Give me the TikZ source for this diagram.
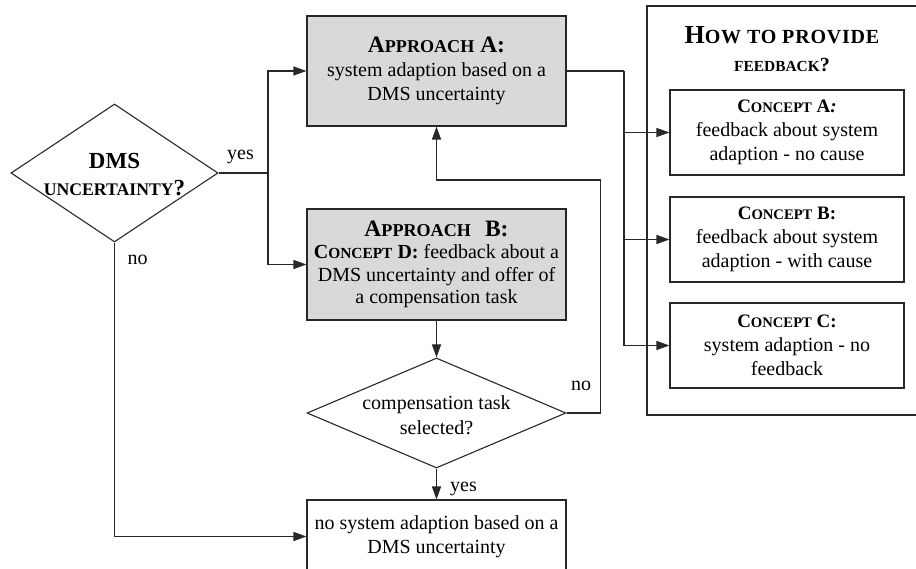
\documentclass[tikz,border=0pt]{standalone}
\usepackage{fontspec}
\setmainfont{Liberation Serif}
\usetikzlibrary{shapes.geometric,arrows.meta}

% scaled capitals standing in for small caps
\makeatletter
\newcommand{\minicaps}[1]{{\fontsize{\the\dimexpr 0.77\dimexpr\f@size pt\relax\relax}{\f@baselineskip}\selectfont #1}}
\makeatother
\newcommand{\headfont}{\bfseries\fontsize{23.5}{24}\selectfont}
\newcommand{\conceptfont}{\bfseries\fontsize{19}{24}\selectfont}

\definecolor{edge}{RGB}{40,40,40}
\definecolor{boxfill}{RGB}{217,217,217}

\tikzset{
  body/.style={font=\fontsize{20}{24}\selectfont, text=black},
  plainbox/.style={body, draw=edge, line width=1.1pt, align=center, inner sep=2pt},
  greybox/.style={plainbox, fill=boxfill, minimum width=259pt},
  conceptbox/.style={plainbox, minimum width=234pt, minimum height=85pt},
  decision/.style={diamond, draw=edge, line width=1.1pt, inner sep=0pt},
  flow/.style={draw=edge, line width=1.1pt},
  arr/.style={flow, -{Triangle[length=13pt,width=9pt]}},
  tag/.style={body, anchor=base, inner sep=0pt}
}

\begin{document}
\begin{tikzpicture}[x=1pt,y=-1pt]
\useasboundingbox (0,0) rectangle (916,569);

% right-hand panel frame, open towards the right margin
\coordinate (panelNE) at (940,6);
\coordinate (panelNW) at (647,6);
\coordinate (panelSW) at (647,415);
\coordinate (panelSE) at (940,415);
\draw[flow] (panelNE) -- (panelNW) -- (panelSW) -- (panelSE);
\node[body, align=center, inner sep=0pt] (panelhead) at (782,49)
  {{\bfseries\fontsize{26}{24}\selectfont\addfontfeature{LetterSpace=4}H\minicaps{OW TO PROVIDE}}\\[4pt] {\bfseries\minicaps{FEEDBACK}?}};

\node[conceptbox] (cA) at (787,132.5)
  {{\conceptfont C\minicaps{ONCEPT} A\textit{:}}\\ feedback about system\\ adaption - no cause};
\node[conceptbox] (cB) at (787,239.5)
  {{\conceptfont C\minicaps{ONCEPT} B:}\\ feedback about system\\ adaption - with cause};
\node[conceptbox] (cC) at (787,345.5)
  {{\conceptfont C\minicaps{ONCEPT} C:}\\ system adaption - no\\ feedback};

% main flow
\node[decision, minimum width=207pt, minimum height=138pt] (dms) at (114.5,173) {};
\node[body, align=center, inner sep=0pt, font=\fontsize{23}{27}\selectfont] (dmstext) at (114.5,175)
  {{\bfseries DMS}\\ {\bfseries\minicaps{UNCERTAINTY}?}};

\node[greybox, minimum height=110pt] (appA) at (436.5,71)
  {{\headfont A\minicaps{PPROACH} A:}\\ system adaption based on a\\ DMS uncertainty};
\node[greybox, minimum height=111pt, font=\fontsize{20}{22.5}\selectfont] (appB) at (436.5,264.5)
  {{\headfont A\minicaps{PPROACH}\hspace{0.35em} B:}\\ {\bfseries C\minicaps{ONCEPT} D:} feedback about a\\ DMS uncertainty and offer of\\ a compensation task};

\node[decision, minimum width=259pt, minimum height=110pt] (comp) at (436.5,413) {};
\node[body, align=center, inner sep=0pt, font=\fontsize{20}{25}\selectfont] (comptext) at (436.5,415)
  {compensation task\\ selected?};

\node[plainbox, minimum width=259pt, minimum height=73pt] (final) at (436.5,536.5)
  {no system adaption based on a\\ DMS uncertainty};

% connectors
\coordinate (yesfork) at (268,173);
\draw[flow] (dms.east) -- (yesfork);
\draw[arr] (yesfork) |- (appA.west);
\draw[arr] (yesfork) |- (appB.west);
\draw[arr] (dms.south) |- (final.west);
\draw[arr] (appB.south) -- (comp.north);
\draw[arr] (comp.south) -- (final.north);
\coordinate (loopturn) at (600.5,180);
\draw[arr] (comp.east) -| (loopturn) -| (appA.south);

\coordinate (fbfork) at (624,71);
\draw[flow] (appA.east) -- (fbfork);
\draw[arr] (fbfork) |- (cA.west);
\draw[arr] (fbfork) |- (cB.west);
\draw[arr] (fbfork) |- (cC.west);

% branch labels
\node[tag] (yes1) at (240.5,160) {yes};
\node[tag] (no1) at (137.5,265) {no};
\node[tag] (no2) at (581,390) {no};
\node[tag] (yes2) at (463.5,491.5) {yes};
\end{tikzpicture}
\end{document}
